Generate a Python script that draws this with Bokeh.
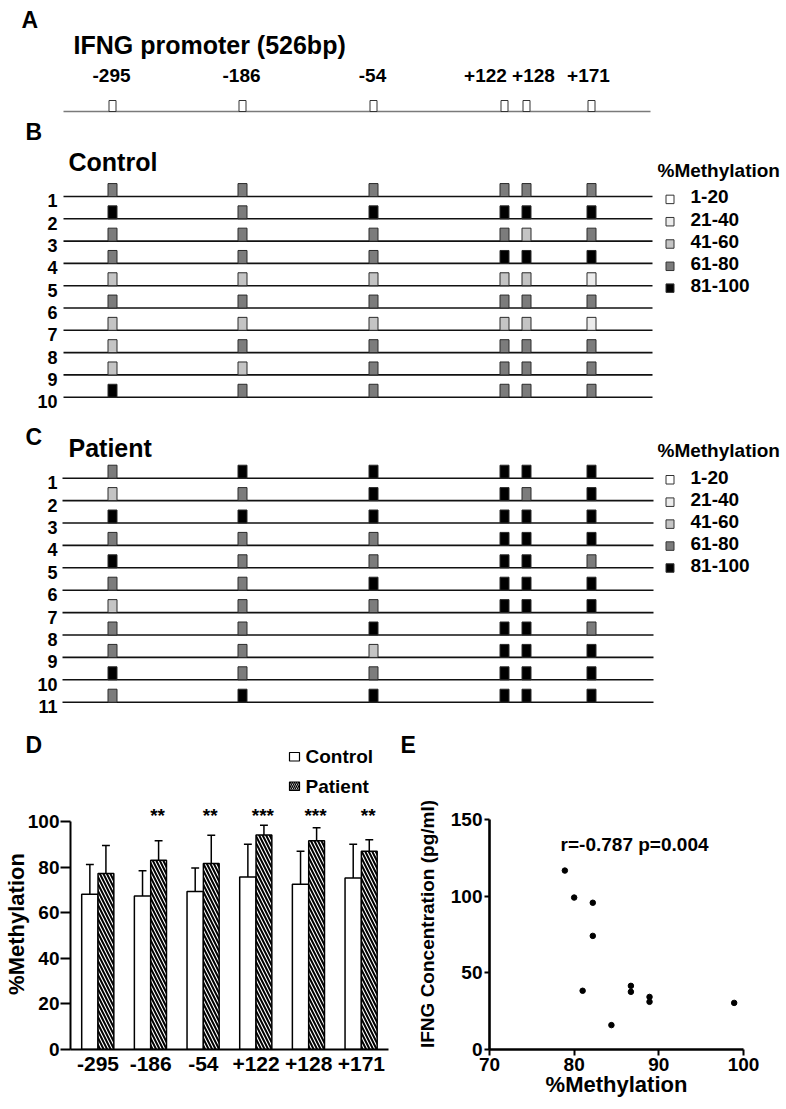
from bokeh.plotting import figure
from bokeh.layouts import column, row
from bokeh.models import Range1d, FixedTicker
from bokeh.core.properties import value
from bokeh.embed import file_html
from bokeh.resources import INLINE

FONT = "Liberation Sans"

# ---------------- data ----------------
sites = ["-295", "-186", "-54", "+122", "+128", "+171"]
level_labels = ["1-20", "21-40", "41-60", "61-80", "81-100"]
level_colors = ["#ffffff", "#ececec", "#c4c4c4", "#7c7c7c", "#000000"]

# methylation class per CpG site (0:1-20 ... 4:81-100)
control_rows = [
    [3, 3, 3, 3, 3, 3],
    [4, 3, 4, 4, 4, 4],
    [3, 3, 3, 3, 2, 3],
    [3, 3, 3, 4, 4, 4],
    [2, 2, 2, 2, 2, 1],
    [3, 3, 3, 3, 3, 3],
    [2, 2, 2, 2, 2, 1],
    [2, 3, 3, 3, 3, 3],
    [2, 2, 3, 3, 3, 3],
    [4, 3, 3, 3, 3, 3],
]
patient_rows = [
    [3, 4, 4, 4, 4, 4],
    [2, 3, 4, 4, 3, 4],
    [4, 4, 4, 4, 4, 4],
    [3, 3, 3, 4, 4, 4],
    [4, 3, 3, 4, 4, 3],
    [3, 3, 4, 4, 4, 4],
    [2, 3, 3, 4, 4, 4],
    [3, 3, 4, 4, 4, 3],
    [3, 3, 2, 4, 4, 4],
    [4, 3, 3, 4, 4, 4],
    [3, 4, 4, 4, 4, 4],
]

control_mean = [68.2, 67.5, 69.4, 75.8, 72.6, 75.4]
control_sd = [13.1, 11.0, 10.4, 14.4, 14.5, 14.8]
patient_mean = [77.3, 83.2, 81.7, 94.3, 91.7, 87.1]
patient_sd = [12.3, 8.5, 12.4, 4.2, 5.7, 5.1]
signif = ["", "**", "**", "***", "***", "**"]

meth = [78.9, 80.0, 82.2, 82.2, 81.0, 84.4, 86.7, 86.7, 88.9, 88.9, 98.9]
ifng = [116.7, 99.1, 95.7, 74.1, 38.3, 15.9, 41.5, 37.6, 34.3, 31.1, 30.4]
corr_text = "r=-0.787  p=0.004"

# ---------------- layout constants (schematic map, page px) ----------------
SITE_X = [112, 242, 373, 504, 526, 591]
SITE_LABEL_X = [111, 241, 372, 485, 533, 588]
W = 786


def txt(p, x, y, t, size, align="left", baseline="middle", angle=0.0):
    p.text(x=[x], y=[y], text=[t], text_font=value(FONT), text_font_style="bold",
           text_font_size=size, text_align=align, text_baseline=baseline,
           text_color="black", angle=angle)


def blank_fig(w, h, xr, yr):
    p = figure(width=w, height=h, x_range=xr, y_range=yr,
               output_backend="svg", toolbar_location=None,
               x_axis_location=None, y_axis_location=None, min_border=0,
               outline_line_color=None, background_fill_color="white",
               border_fill_color="white")
    p.grid.grid_line_color = None
    return p


def style_axis(ax, label_size, tick_out, standoff):
    ax.major_tick_out = tick_out
    ax.major_tick_in = 0
    ax.minor_tick_line_color = None
    ax.axis_line_color = "black"
    ax.major_tick_line_color = "black"
    ax.major_tick_line_width = 2
    ax.major_label_text_font = FONT
    ax.major_label_text_font_style = "bold"
    ax.major_label_text_font_size = label_size
    ax.major_label_text_color = "black"
    ax.major_label_standoff = standoff
    ax.axis_label_text_font = FONT
    ax.axis_label_text_font_style = "bold"
    ax.axis_label_text_color = "black"


# ---------------- Panel A (page y 0..120) ----------------
pA = blank_fig(W, 120, Range1d(0, W), Range1d(120, 0))
txt(pA, 21, 19, "A", "23px")
txt(pA, 73, 44, "IFNG promoter (526bp)", "25px")
for x, s in zip(SITE_LABEL_X, sites):
    txt(pA, x, 75, s, "19px", align="center")
pA.segment(x0=[63], y0=[111], x1=[650], y1=[111], line_color="#7a7a7a", line_width=1.6)
pA.quad(left=[x - 3.5 for x in SITE_X], right=[x + 3.5 for x in SITE_X],
        top=[100] * 6, bottom=[111] * 6, fill_color="white", line_color="#333333", line_width=1)


def grid_panel(p, rows_data, x0, x1):
    n = len(rows_data)
    rr = list(range(1, n + 1))
    p.segment(x0=[x0] * n, y0=rr, x1=[x1] * n, y1=rr, line_color="#111111", line_width=1.6)
    L, R, T, B, C = [], [], [], [], []
    for r, lv in zip(rr, rows_data):
        for x, c in zip(SITE_X, lv):
            L.append(x - 4.5); R.append(x + 4.5)
            T.append(r - 0.58); B.append(r)
            C.append(level_colors[c])
    p.quad(left=L, right=R, top=T, bottom=B, fill_color=C, line_color="#2a2a2a", line_width=1)
    for r in rr:
        txt(p, 57, r + 0.2, str(r), "18px", align="right")


def legend_panel(p, y_title, y_rows):
    txt(p, 657, y_title, "%Methylation", "19px")
    for lab, col, y in zip(level_labels, level_colors, y_rows):
        p.quad(left=[665.5], right=[673.5], top=[y - 0.08], bottom=[y + 0.3],
               fill_color=col, line_color="#333333", line_width=1)
        txt(p, 690, y, lab, "19px")


# ---------------- Panel B (page y 120..415) ----------------
pB = blank_fig(W, 295, Range1d(0, W), Range1d(10.82, -2.408))
txt(pB, 25, -1.87, "B", "23px")
txt(pB, 68, -0.525, "Control", "25px")
grid_panel(pB, control_rows, 63, 652)
legend_panel(pB, -0.166, [1.02, 2.02, 3.02, 4.02, 5.0])

# ---------------- Panel C (page y 415..725) ----------------
pC = blank_fig(W, 310, Range1d(0, W), Range1d(12.04, -1.799))
txt(pC, 25, -0.82, "C", "23px")
txt(pC, 68, -0.37, "Patient", "25px")
grid_panel(pC, patient_rows, 62, 653)
legend_panel(pC, -0.237, [0.96, 1.96, 2.94, 3.92, 4.9])

# ---------------- strip with panel letters D/E and bar legend (page y 725..798) -------------
pS = blank_fig(W, 73, Range1d(0, W), Range1d(798, 725))
txt(pS, 25, 744, "D", "23px")
txt(pS, 400, 744, "E", "23px")
pS.quad(left=[289], right=[299], top=[752], bottom=[760.5], fill_color="white",
        line_color="black", line_width=1.2)
pS.quad(left=[289], right=[299], top=[781.5], bottom=[790], fill_color="white",
        hatch_pattern="\\", hatch_color="black", hatch_weight=1.3, hatch_scale=4,
        line_color="black", line_width=1.2)
txt(pS, 305, 756, "Control", "19px")
txt(pS, 305, 785.5, "Patient", "19px")

# ---------------- Panel D (page y 798..1105) ----------------
pD = figure(width=408, height=307, x_range=Range1d(-0.5226, 5.553), y_range=Range1d(0, 110.3),
            output_backend="svg", toolbar_location=None,
            min_border_left=68, min_border_right=18, min_border_top=0, min_border_bottom=56,
            outline_line_color=None)
pD.grid.grid_line_color = None
idx = list(range(len(sites)))
cx = [i - 0.155 for i in idx]
px = [i + 0.15 for i in idx]
pD.vbar(x=cx, width=0.31, top=control_mean, bottom=0, fill_color="white",
        line_color="black", line_width=1.5)
pD.vbar(x=px, width=0.30, top=patient_mean, bottom=0, fill_color="white",
        hatch_pattern="\\", hatch_color="black", hatch_weight=2.0, hatch_scale=7,
        line_color="black", line_width=1.5)
for xs, m, s in ((cx, control_mean, control_sd), (px, patient_mean, patient_sd)):
    tops = [a + b for a, b in zip(m, s)]
    pD.segment(x0=xs, y0=m, x1=xs, y1=tops, line_color="black", line_width=1.5)
    pD.segment(x0=[x - 0.075 for x in xs], y0=tops, x1=[x + 0.075 for x in xs], y1=tops,
               line_color="black", line_width=1.5)
sx = [i + 0.13 for i, s in zip(idx, signif) if s]
st = [s for s in signif if s]
pD.text(x=sx, y=[103] * len(sx), text=st, text_font=value(FONT), text_font_size="19px",
        text_font_style="bold", text_align="center", text_baseline="middle")

ya = pD.yaxis[0]
style_axis(ya, "19px", 10, 1)
ya.ticker = FixedTicker(ticks=[0, 20, 40, 60, 80, 100])
ya.bounds = (0, 100)
ya.axis_line_width = 2
ya.axis_label = "%Methylation"
ya.axis_label_text_font_size = "22px"
ya.axis_label_standoff = -4

xa = pD.xaxis[0]
style_axis(xa, "21px", 0, 7)
xa.ticker = FixedTicker(ticks=idx)
xa.major_label_overrides = {i: s for i, s in zip(idx, sites)}
xa.bounds = (-0.5226, 5.515)
xa.axis_line_width = 2

# ---------------- Panel E (page y 798..1105) ----------------
pE = figure(width=378, height=307, x_range=Range1d(70, 100), y_range=Range1d(0, 163.7),
            output_backend="svg", toolbar_location=None,
            min_border_left=81, min_border_right=43, min_border_top=0, min_border_bottom=56,
            outline_line_color=None)
pE.grid.grid_line_color = None
pE.scatter(meth, ifng, size=5.5, fill_color="black", line_color="black")
txt(pE, 78.4, 133.7, corr_text, "19px")

ey = pE.yaxis[0]
style_axis(ey, "19px", 5, 2)
ey.ticker = FixedTicker(ticks=[0, 50, 100, 150])
ey.bounds = (0, 150)
ey.axis_line_width = 2.6
ey.axis_label = "IFNG Concentration (pg/ml)"
ey.axis_label_text_font_size = "19px"
ey.axis_label_standoff = 10

ex = pE.xaxis[0]
style_axis(ex, "19px", 6, 2)
ex.ticker = FixedTicker(ticks=[70, 80, 90, 100])
ex.axis_line_width = 2.6
ex.axis_label = "%Methylation"
ex.axis_label_text_font_size = "22px"
ex.axis_label_standoff = -2

layout = column(pA, pB, pC, pS, row(pD, pE))
open("out.html", "w").write(file_html(layout, INLINE))
